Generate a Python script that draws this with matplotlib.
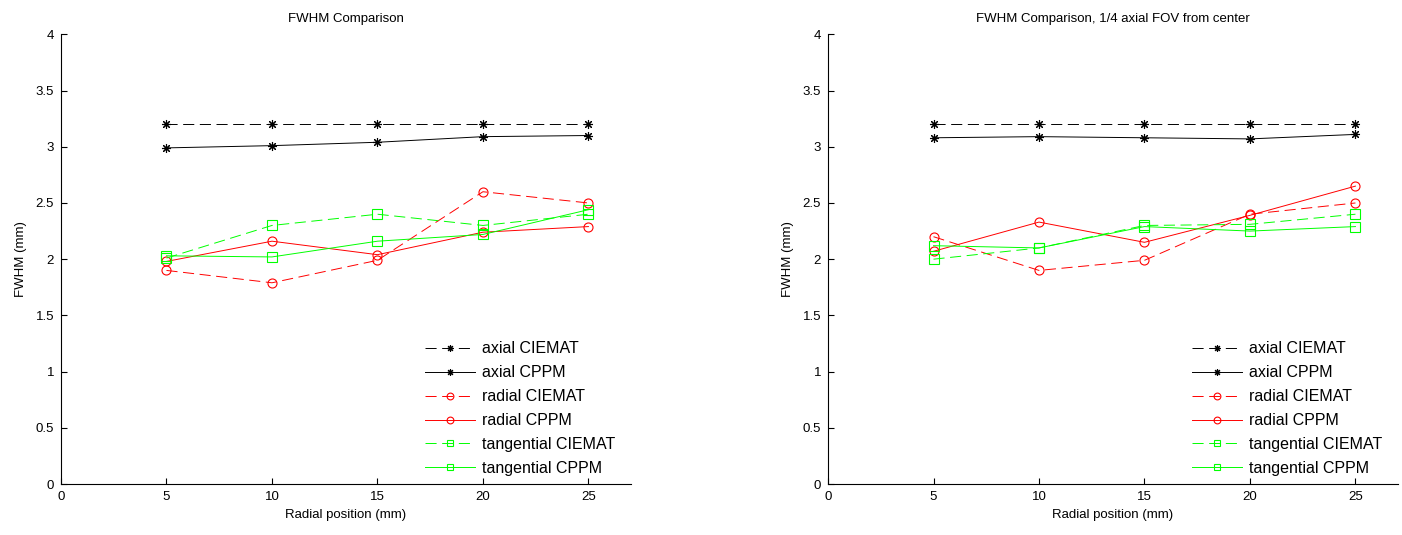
import matplotlib
matplotlib.use('Agg')
import matplotlib.pyplot as plt

# radial positions (mm)
radial_pos = [5, 10, 15, 20, 25]

# left panel: FWHM at center
axial_ciemat_c = [3.20, 3.20, 3.20, 3.20, 3.20]
axial_cppm_c = [2.99, 3.01, 3.04, 3.09, 3.10]
radial_ciemat_c = [1.90, 1.79, 1.99, 2.60, 2.50]
radial_cppm_c = [1.98, 2.16, 2.04, 2.24, 2.29]
tang_ciemat_c = [2.01, 2.30, 2.40, 2.30, 2.40]
tang_cppm_c = [2.03, 2.02, 2.16, 2.22, 2.44]

# right panel: 1/4 axial FOV from center
axial_ciemat_q = [3.20, 3.20, 3.20, 3.20, 3.20]
axial_cppm_q = [3.08, 3.09, 3.08, 3.07, 3.11]
radial_ciemat_q = [2.20, 1.90, 1.99, 2.40, 2.50]
radial_cppm_q = [2.07, 2.33, 2.15, 2.39, 2.65]
tang_ciemat_q = [2.00, 2.10, 2.30, 2.31, 2.40]
tang_cppm_q = [2.12, 2.10, 2.29, 2.25, 2.29]

labels = ['axial CIEMAT', 'axial CPPM', 'radial CIEMAT', 'radial CPPM',
          'tangential CIEMAT', 'tangential CPPM']
titles = ['FWHM Comparison', 'FWHM Comparison, 1/4 axial FOV from center']

plt.rcParams['font.family'] = ['Liberation Sans', 'DejaVu Sans']
plt.rcParams['lines.scale_dashes'] = False

dash = (0, (8, 4))
star = (8, 2, 0)  # matlab style asterisk
styles = [
    dict(color='black', linestyle=dash, marker=star),
    dict(color='black', linestyle='-', marker=star),
    dict(color='red', linestyle=dash, marker='o', mfc='none'),
    dict(color='red', linestyle='-', marker='o', mfc='none'),
    dict(color='#00ff00', linestyle=dash, marker='s', mfc='none'),
    dict(color='#00ff00', linestyle='-', marker='s', mfc='none'),
]

fig = plt.figure(figsize=(14.02, 5.35), dpi=100)
ax1 = fig.add_axes([0.0435, 0.0953, 0.4063, 0.8405])
ax2 = fig.add_axes([0.5906, 0.0953, 0.4063, 0.8405])

panels = [
    (ax1, [axial_ciemat_c, axial_cppm_c, radial_ciemat_c, radial_cppm_c, tang_ciemat_c, tang_cppm_c]),
    (ax2, [axial_ciemat_q, axial_cppm_q, radial_ciemat_q, radial_cppm_q, tang_ciemat_q, tang_cppm_q]),
]

for i, (ax, series) in enumerate(panels):
    for vals, lab, st in zip(series, labels, styles):
        ax.plot(radial_pos, vals, label=lab, linewidth=0.7, markersize=6.5,
                markeredgewidth=0.8, **st)
    ax.set_xlim(0, 27)
    ax.set_ylim(0, 4)
    ax.set_xticks([0, 5, 10, 15, 20, 25])
    ax.set_yticks([0, 0.5, 1, 1.5, 2, 2.5, 3, 3.5, 4])
    ax.set_yticklabels(['0', '0.5', '1', '1.5', '2', '2.5', '3', '3.5', '4'])
    ax.spines['top'].set_visible(False)
    ax.spines['right'].set_visible(False)
    ax.spines['left'].set_linewidth(0.8)
    ax.spines['bottom'].set_linewidth(0.8)
    ax.tick_params(direction='in', length=4, width=0.8, labelsize=9.5, pad=5)
    ax.set_xlabel('Radial position (mm)', fontsize=9.5, labelpad=4)
    ax.set_ylabel('FWHM (mm)', fontsize=9.5, labelpad=6)
    ax.set_title(titles[i], fontsize=9.5, pad=9)
    ax.legend(loc='lower right', frameon=False, fontsize=11.5, handlelength=3.1,
              handletextpad=0.45, labelspacing=0.56, markerscale=0.75,
              borderaxespad=0.1, bbox_to_anchor=(0.987, 0.0))

fig.savefig('out.png', dpi=100)
